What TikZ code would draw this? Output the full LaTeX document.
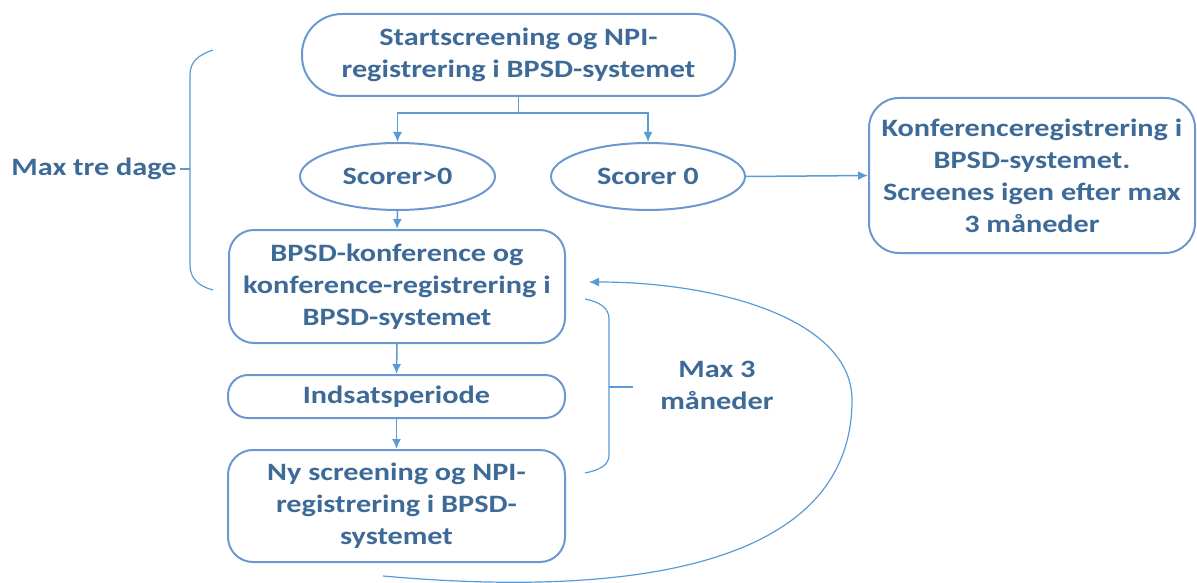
\documentclass[tikz,border=0pt]{standalone}
\usepackage{fontspec}
\setmainfont{Carlito}[FakeStretch=1.21]
\usetikzlibrary{shapes.geometric,arrows.meta}

\definecolor{linecol}{RGB}{91,155,213}
\definecolor{edgecol}{RGB}{108,152,208}
\definecolor{textcol}{RGB}{62,106,152}

\tikzset{
  box/.style={draw=edgecol, line width=2pt, text=textcol, align=center,
    inner sep=0pt, font=\fontsize{25}{32}\selectfont\bfseries},
  oval/.style={box, ellipse},
  flow/.style={draw=linecol, line width=1.5pt, ->},
  brace/.style={draw=linecol, line width=1.2pt},
  note/.style={text=textcol, align=center, font=\fontsize{25}{32}\selectfont\bfseries}
}

\begin{document}
\begin{tikzpicture}[x=1pt, y=-1pt, >={Latex[length=10pt,width=9pt]}]
            \useasboundingbox (0,0) rectangle (1197,583);

            \node (start) [box, rounded corners=40pt, minimum width=433pt, minimum height=82pt] at (518.5,55)
                {Startscreening og NPI-\\registrering i BPSD-systemet};
            \node (scorepos) [oval, minimum width=195pt, minimum height=67pt] at (397.5,176.5) {Scorer>0};
            \node (scorenul) [oval, minimum width=194pt, minimum height=67pt] at (648,176.5) {Scorer 0};
            \node (konfreg) [box, rounded corners=30pt, minimum width=326pt, minimum height=155pt] at (1032,175.5)
                {Konferenceregistrering i\\BPSD-systemet.\\Screenes igen efter max\\3 måneder};
            \node (konf) [box, rounded corners=25pt, minimum width=336pt, minimum height=113pt] at (397,286.5)
                {BPSD-konference og\\konference-registrering i\\BPSD-systemet};
            \node (indsats) [box, rounded corners=20pt, minimum width=337pt, minimum height=43pt] at (396.5,396.5)
                {Indsatsperiode};
            \node (nyscreen) [box, rounded corners=25pt, minimum width=337pt, minimum height=112pt] at (396.5,506)
                {Ny screening og NPI-\\registrering i BPSD-\\systemet};

            % forbindelser
            \draw[flow] (start.south) -- ++(0,16) -| (scorepos.north);
            \draw[flow] (start.south) -- ++(0,16) -| (scorenul.north);
            \draw[flow] (scorenul.east) -- (konfreg.west);
            \draw[flow] (scorepos.south) -- (konf.north);
            \draw[flow] (konf.south) -- (indsats.north);
            \draw[flow] (indsats.south) -- (nyscreen.north);

            % tilbageloeb
            \coordinate (loopstart) at (383,576);
            \coordinate (loopend) at (589,282);
            \draw[flow, line width=1.2pt] (loopstart) .. controls (540,590) and (852,598) .. (852,400)
                .. controls (852,320) and (720,282) .. (loopend);

            % klammer
            \node (tredage) [note] at (94,169) {Max tre dage};
            \draw[brace] (213,50) .. controls (198,55) and (190,62) .. (190,75) -- (190,265)
                .. controls (190,278) and (198,286) .. (213,290);
            \draw[brace] (190,169) -- (tredage.east);

            \node (maaneder) [note] at (717,385.5) {Max 3\\måneder};
            \draw[brace] (585,299) .. controls (600,302) and (609,308) .. (609,319) -- (609,455)
                .. controls (609,465) and (600,470) .. (585,473);
            \draw[brace] (609,387) -- (633,387);

        \end{tikzpicture}
\end{document}
